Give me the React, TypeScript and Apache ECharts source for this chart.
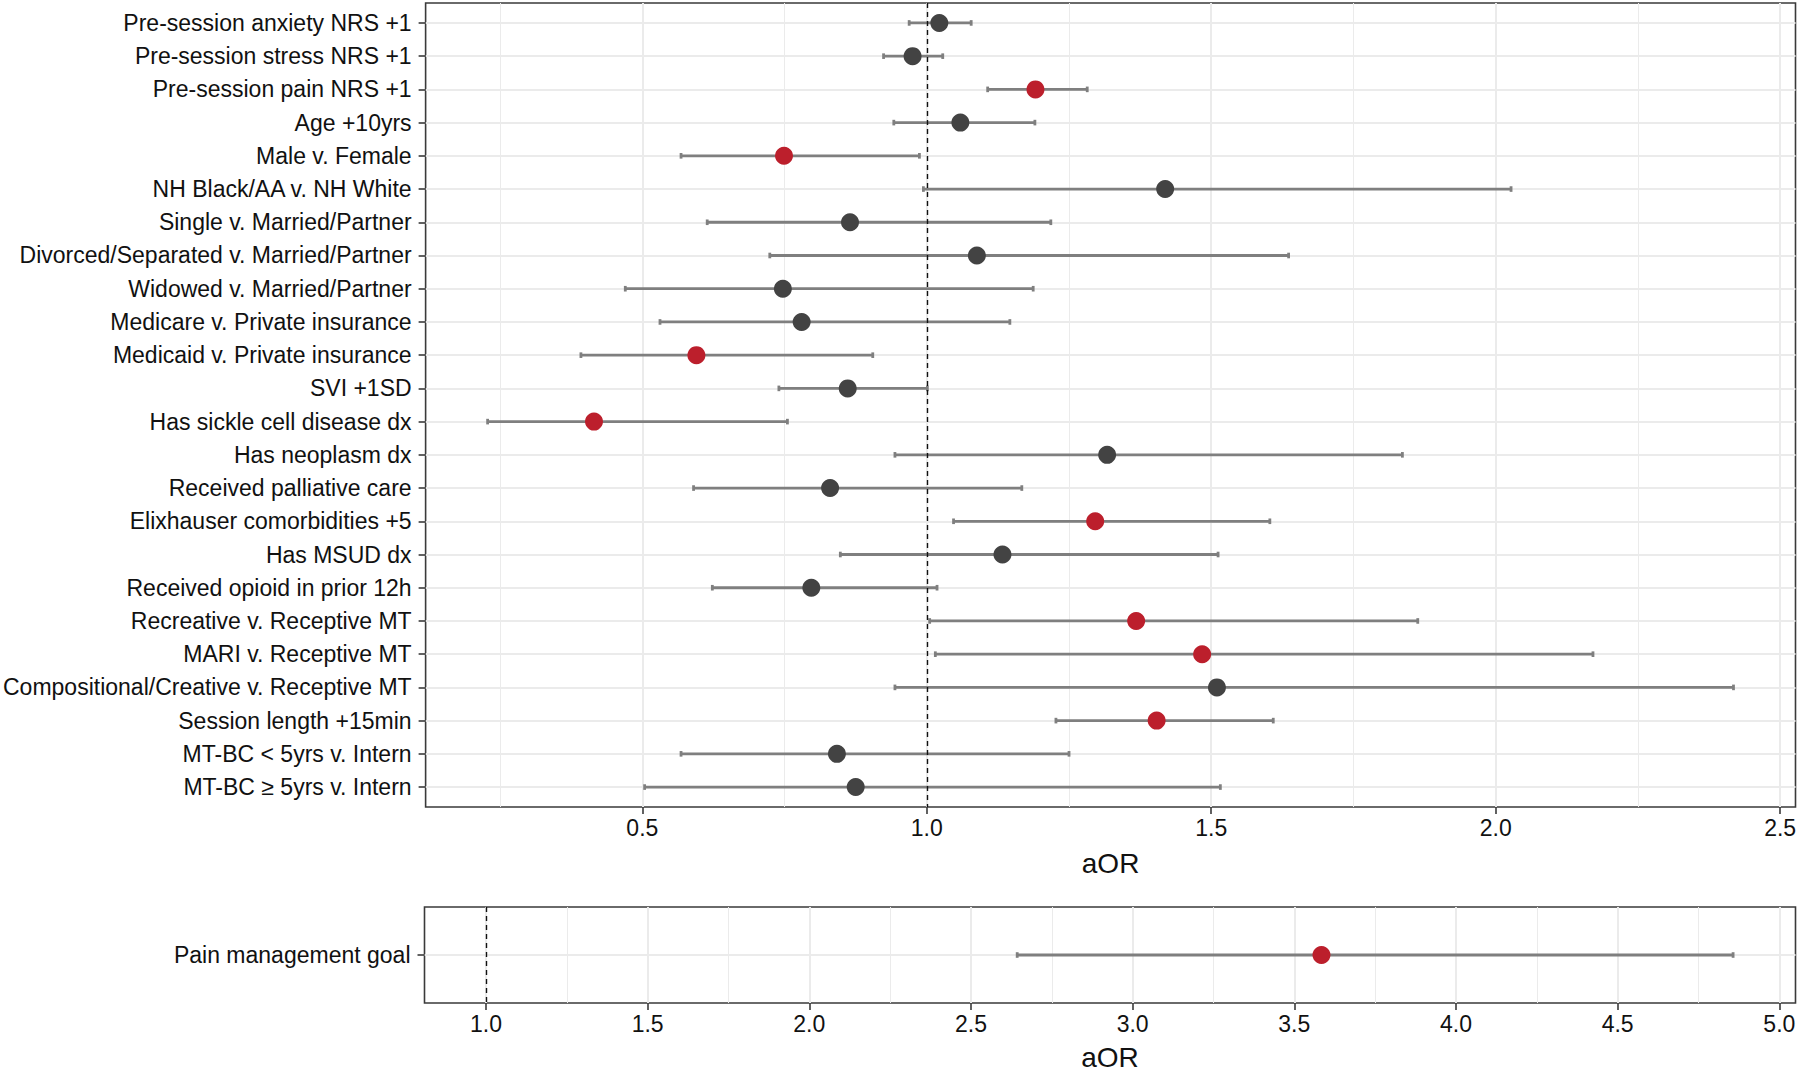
import React, { useEffect, useRef } from "react";
import * as echarts from "echarts";

const categories = [
  "Pre-session anxiety NRS +1",
  "Pre-session stress NRS +1",
  "Pre-session pain NRS +1",
  "Age +10yrs",
  "Male v. Female",
  "NH Black/AA v. NH White",
  "Single v. Married/Partner",
  "Divorced/Separated v. Married/Partner",
  "Widowed v. Married/Partner",
  "Medicare v. Private insurance",
  "Medicaid v. Private insurance",
  "SVI +1SD",
  "Has sickle cell disease dx",
  "Has neoplasm dx",
  "Received palliative care",
  "Elixhauser comorbidities +5",
  "Has MSUD dx",
  "Received opioid in prior 12h",
  "Recreative v. Receptive MT",
  "MARI v. Receptive MT",
  "Compositional/Creative v. Receptive MT",
  "Session length +15min",
  "MT-BC < 5yrs v. Intern",
  "MT-BC \u2265 5yrs v. Intern",
];
const estimate = [
  1.022, 0.975, 1.191, 1.059, 0.749, 1.419, 0.865, 1.088, 0.747, 0.78, 0.595, 0.861,
  0.415, 1.317, 0.83, 1.296, 1.133, 0.797, 1.368, 1.484, 1.51, 1.404, 0.842, 0.875,
];
const lower = [
  0.969, 0.924, 1.107, 0.942, 0.568, 0.994, 0.614, 0.724, 0.47, 0.531, 0.392, 0.74,
  0.228, 0.944, 0.59, 1.047, 0.848, 0.623, 1.005, 1.015, 0.944, 1.227, 0.568, 0.504,
];
const upper = [
  1.078, 1.028, 1.282, 1.19, 0.987, 2.027, 1.218, 1.636, 1.187, 1.146, 0.905, 1.001,
  0.755, 1.836, 1.167, 1.603, 1.512, 1.018, 1.863, 2.171, 2.418, 1.609, 1.25, 1.516,
];
const significant = [
  false, false, true, false, true, false, false, false, false, false, true, false,
  true, false, false, true, false, false, true, true, false, true, false, false,
];

const goalCategories = ["Pain management goal"];
const goalEstimate = [3.584];
const goalLower = [2.643];
const goalUpper = [4.857];
const goalSignificant = [true];

const topMajorTicks = [0.5, 1.0, 1.5, 2.0, 2.5];
const topMinorTicks = [0.25, 0.75, 1.25, 1.75, 2.25];
const bottomMajorTicks = [1.0, 1.5, 2.0, 2.5, 3.0, 3.5, 4.0, 4.5, 5.0];
const bottomMinorTicks = [1.25, 1.75, 2.25, 2.75, 3.25, 3.75, 4.25, 4.75];

const FONT = "'Liberation Sans', Arial, Helvetica, sans-serif";
const RED = "#BC1F2C";
const DARK = "#434343";
const BAR = "#7F7F7F";
const GRID = "#EBEBEB";
const BORDER = "#3a3a3a";
const TEXT = "#111111";

export default function App() {
  const ref = useRef<HTMLDivElement>(null);

  useEffect(() => {
    if (!ref.current) return;
    const chart = echarts.init(ref.current, undefined, { renderer: "svg" });

    const topIdx = categories.map((_, i) => i);
    const botIdx = goalCategories.map((_, i) => i);

    const errorRender = (params: any, api: any) => {
      const y = api.value(0);
      const lo = api.value(1);
      const hi = api.value(2);
      const p1 = api.coord([lo, y]);
      const p2 = api.coord([hi, y]);
      const h = 2.8;
      const st = { stroke: BAR, lineWidth: 2.8 };
      return {
        type: "group",
        children: [
          { type: "line", shape: { x1: p1[0], y1: p1[1], x2: p2[0], y2: p2[1] }, style: st },
          { type: "line", shape: { x1: p1[0], y1: p1[1] - h, x2: p1[0], y2: p1[1] + h }, style: st },
          { type: "line", shape: { x1: p2[0], y1: p2[1] - h, x2: p2[0], y2: p2[1] + h }, style: st },
        ],
      };
    };

    const makeX = (gridIndex: number, min: number, max: number, major: number[], nameGap: number) => ({
      type: "value",
      gridIndex,
      min,
      max,
      name: "aOR",
      nameLocation: "middle",
      nameGap,
      nameTextStyle: { fontFamily: FONT, fontSize: 28, color: TEXT },
      axisLine: { show: false, onZero: false },
      axisTick: { show: true, customValues: major, length: 7, lineStyle: { color: BORDER, width: 1.6 } },
      axisLabel: {
        show: true,
        customValues: major,
        fontFamily: FONT,
        fontSize: 23,
        color: TEXT,
        margin: 9,
        formatter: (v: number) => v.toFixed(1),
      },
      splitLine: { show: true, lineStyle: { color: GRID, width: 2 } },
    });
    const makeMinorX = (gridIndex: number, min: number, max: number, minor: number[]) => ({
      type: "value",
      gridIndex,
      min,
      max,
      axisLine: { show: false, onZero: false },
      axisTick: { show: false, customValues: minor },
      axisLabel: { show: false, customValues: minor },
      splitLine: { show: true, lineStyle: { color: GRID, width: 1 } },
    });
    const makeY = (gridIndex: number, min: number, max: number, idx: number[], labels: string[]) => ({
      type: "value",
      gridIndex,
      min,
      max,
      inverse: true,
      axisLine: { show: false, onZero: false },
      axisTick: { show: true, customValues: idx, length: 7, lineStyle: { color: BORDER, width: 1.6 } },
      axisLabel: {
        show: true,
        customValues: idx,
        fontFamily: FONT,
        fontSize: 23,
        color: TEXT,
        margin: 14,
        formatter: (v: number) => labels[Math.round(v)] ?? "",
      },
      splitLine: { show: true, lineStyle: { color: GRID, width: 2 } },
    });

    const vline = {
      symbol: "none",
      silent: true,
      label: { show: false },
      lineStyle: { type: [5, 4], color: TEXT, width: 1.4 },
      data: [{ xAxis: 1 }],
    };

    const option: any = {
      animation: false,
      backgroundColor: "#ffffff",
      grid: [
        { left: 424.5, right: 4.5, top: 3, height: 804, show: true, borderColor: BORDER, borderWidth: 1.6, backgroundColor: "transparent" },
        { left: 424.5, right: 4.5, top: 907, height: 99, show: true, borderColor: BORDER, borderWidth: 1.6, backgroundColor: "transparent" },
      ],
      xAxis: [
        makeX(0, 0.119, 2.527, topMajorTicks, 42),
        makeMinorX(0, 0.119, 2.527, topMinorTicks),
        makeX(1, 0.81, 5.05, bottomMajorTicks, 40),
        makeMinorX(1, 0.81, 5.05, bottomMinorTicks),
      ],
      yAxis: [
        makeY(0, -0.6, categories.length - 1 + 0.6, topIdx, categories),
        makeY(1, -0.6, goalCategories.length - 1 + 0.6, botIdx, goalCategories),
      ],
      series: [
        {
          type: "custom",
          xAxisIndex: 0,
          yAxisIndex: 0,
          renderItem: errorRender,
          encode: { x: [1, 2], y: 0 },
          data: topIdx.map((i) => [i, lower[i], upper[i]]),
          z: 2,
          silent: true,
          markLine: vline,
        },
        {
          type: "scatter",
          xAxisIndex: 0,
          yAxisIndex: 0,
          symbol: "circle",
          symbolSize: 18,
          z: 3,
          data: topIdx.map((i) => ({
            value: [estimate[i], i],
            itemStyle: { color: significant[i] ? RED : DARK, opacity: 1 },
          })),
        },
        {
          type: "custom",
          xAxisIndex: 2,
          yAxisIndex: 1,
          renderItem: errorRender,
          encode: { x: [1, 2], y: 0 },
          data: botIdx.map((i) => [i, goalLower[i], goalUpper[i]]),
          z: 2,
          silent: true,
          markLine: vline,
        },
        {
          type: "scatter",
          xAxisIndex: 2,
          yAxisIndex: 1,
          symbol: "circle",
          symbolSize: 18,
          z: 3,
          data: botIdx.map((i) => ({
            value: [goalEstimate[i], i],
            itemStyle: { color: goalSignificant[i] ? RED : DARK, opacity: 1 },
          })),
        },
      ],
    };

    chart.setOption(option);
    return () => chart.dispose();
  }, []);

  return (
    <div
      ref={ref}
      style={{ position: "absolute", left: 0, top: 0, width: 1800, height: 1072, background: "#fff" }}
    />
  );
}
